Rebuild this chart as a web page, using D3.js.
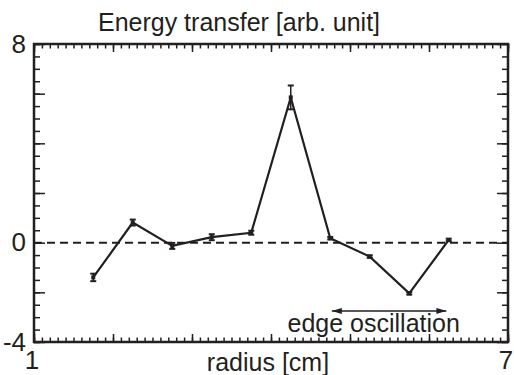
<!DOCTYPE html>
<html>
<head>
<meta charset="utf-8">
<script src="https://cdn.jsdelivr.net/npm/d3@7.9.0/dist/d3.min.js"></script>
<style>
  body { margin: 0; background: #fff; }
  text { font-family: "Liberation Sans", Arial, sans-serif; fill: #231f20; }
</style>
</head>
<body>
<div id="plot-container"></div>
<script>
// radius of each measurement [cm]
const radius = [1.75, 2.25, 2.75, 3.25, 3.75, 4.25, 4.75, 5.25, 5.75, 6.25];
// energy transfer [arb. unit]
const energy = [-1.4, 0.81, -0.13, 0.22, 0.4, 5.85, 0.18, -0.56, -2.04, 0.11];
// error bar half widths
const errors = [0.15, 0.12, 0.12, 0.12, 0.08, 0.48, 0.05, 0.05, 0.05, 0.05];

const xLabelTicks = [1, 7];
const yLabelTicks = [8, 0, -4];
const xMajor = [1, 2, 3, 4, 5, 6, 7];
const yMajor = [-4, -2, 0, 2, 4, 6, 8];

// annotation: arrow span and label
const arrowSpan = [4.77, 6.22];
const arrowLevel = -2.75;
const annotation = "edge oscillation";

function renderPlot() {
    const width = 514;
    const height = 375;
    const margin = { top: 44, right: 6, bottom: 33, left: 34 };

    const svg = d3.select('#plot-container')
        .append('svg')
        .attr('width', width)
        .attr('height', height);

    const xScale = d3.scaleLinear()
        .domain([1, 7])
        .range([margin.left, width - margin.right]);

    const yScale = d3.scaleLinear()
        .domain([-4, 8])
        .range([height - margin.bottom, margin.top]);

    const ink = '#231f20';
    const xMinor = d3.range(10, 71).map(d => d / 10);
    const yMinor = d3.range(-8, 17).map(d => d / 2);

    function styleAxis(g) {
        g.select('.domain').remove();
        g.selectAll('.tick line').attr('stroke', ink).attr('stroke-width', 1.5);
        g.selectAll('.tick text')
            .style('font-size', '26px')
            .attr('fill', ink);
    }

    // minor and major ticks on all four sides, pointing inward
    const usable = {
        top: margin.top,
        bottom: height - margin.bottom,
        left: margin.left,
        right: width - margin.right
    };

    svg.append('g').attr('transform', `translate(0,${usable.bottom})`)
        .call(d3.axisBottom(xScale).tickValues(xMinor).tickSize(-4.5).tickFormat(''))
        .call(styleAxis);
    svg.append('g').attr('transform', `translate(0,${usable.bottom})`)
        .call(d3.axisBottom(xScale).tickValues(xMajor).tickSize(-8).tickPadding(9)
            .tickFormat(d => xLabelTicks.includes(d) ? d : ''))
        .call(styleAxis)
        .call(g => g.selectAll('.tick text').attr('dx', -2.5));
    svg.append('g').attr('transform', `translate(0,${usable.top})`)
        .call(d3.axisTop(xScale).tickValues(xMinor).tickSize(-4.5).tickFormat(''))
        .call(styleAxis);
    svg.append('g').attr('transform', `translate(0,${usable.top})`)
        .call(d3.axisTop(xScale).tickValues(xMajor).tickSize(-8).tickFormat(''))
        .call(styleAxis);

    svg.append('g').attr('transform', `translate(${usable.left},0)`)
        .call(d3.axisLeft(yScale).tickValues(yMinor).tickSize(-6).tickFormat(''))
        .call(styleAxis);
    svg.append('g').attr('transform', `translate(${usable.left},0)`)
        .call(d3.axisLeft(yScale).tickValues(yMajor).tickSize(-11).tickPadding(8)
            .tickFormat(d => yLabelTicks.includes(d) ? d : ''))
        .call(styleAxis);
    svg.append('g').attr('transform', `translate(${usable.right},0)`)
        .call(d3.axisRight(yScale).tickValues(yMinor).tickSize(-6).tickFormat(''))
        .call(styleAxis);
    svg.append('g').attr('transform', `translate(${usable.right},0)`)
        .call(d3.axisRight(yScale).tickValues(yMajor).tickSize(-11).tickFormat(''))
        .call(styleAxis);

    // frame
    svg.append('rect')
        .attr('x', usable.left)
        .attr('y', usable.top)
        .attr('width', usable.right - usable.left)
        .attr('height', usable.bottom - usable.top)
        .attr('fill', 'none')
        .attr('stroke', ink)
        .attr('stroke-width', 2.5);

    // zero line
    svg.append('line')
        .attr('x1', usable.left)
        .attr('x2', usable.right)
        .attr('y1', yScale(0))
        .attr('y2', yScale(0))
        .attr('stroke', ink)
        .attr('stroke-width', 2)
        .attr('stroke-dasharray', '8,5');

    const data = radius.map((r, i) => ({ r, e: energy[i], err: errors[i] }));

    // data line
    const line = d3.line()
        .x(d => xScale(d.r))
        .y(d => yScale(d.e));

    svg.append('path')
        .datum(data)
        .attr('fill', 'none')
        .attr('stroke', ink)
        .attr('stroke-width', 2.2)
        .attr('d', line);

    // error bars
    const bars = svg.append('g').selectAll('g')
        .data(data)
        .enter()
        .append('g');

    bars.append('line')
        .attr('x1', d => xScale(d.r))
        .attr('x2', d => xScale(d.r))
        .attr('y1', d => yScale(d.e - d.err))
        .attr('y2', d => yScale(d.e + d.err))
        .attr('stroke', ink)
        .attr('stroke-width', 1.5);

    [-1, 1].forEach(s => {
        bars.append('line')
            .attr('x1', d => xScale(d.r) - 3)
            .attr('x2', d => xScale(d.r) + 3)
            .attr('y1', d => yScale(d.e + s * d.err))
            .attr('y2', d => yScale(d.e + s * d.err))
            .attr('stroke', ink)
            .attr('stroke-width', 2);
    });

    bars.append('rect')
        .attr('x', d => xScale(d.r) - 2)
        .attr('y', d => yScale(d.e) - 2)
        .attr('width', 4)
        .attr('height', 4)
        .attr('fill', ink);

    // double arrow
    const defs = svg.append('defs');
    defs.append('marker')
        .attr('id', 'head')
        .attr('viewBox', '0 0 10 6')
        .attr('refX', 10)
        .attr('refY', 3)
        .attr('markerWidth', 10)
        .attr('markerHeight', 6)
        .attr('markerUnits', 'userSpaceOnUse')
        .attr('orient', 'auto-start-reverse')
        .append('path')
        .attr('d', 'M0,0 L10,3 L0,6 Z')
        .attr('fill', ink);

    svg.append('line')
        .attr('x1', xScale(arrowSpan[0]))
        .attr('x2', xScale(arrowSpan[1]))
        .attr('y1', yScale(arrowLevel))
        .attr('y2', yScale(arrowLevel))
        .attr('stroke', ink)
        .attr('stroke-width', 1.5)
        .attr('marker-start', 'url(#head)')
        .attr('marker-end', 'url(#head)');

    svg.append('text')
        .attr('x', xScale(5.3))
        .attr('y', yScale(-3.59))
        .attr('text-anchor', 'middle')
        .style('font-size', '25px')
        .text(annotation);

    // titles
    svg.append('text')
        .attr('x', 239)
        .attr('y', 31)
        .attr('text-anchor', 'middle')
        .style('font-size', '25px')
        .text('Energy transfer [arb. unit]');

    svg.append('text')
        .attr('x', 268)
        .attr('y', 371)
        .attr('text-anchor', 'middle')
        .style('font-size', '25px')
        .text('radius [cm]');
}

renderPlot();
</script>
</body>
</html>
